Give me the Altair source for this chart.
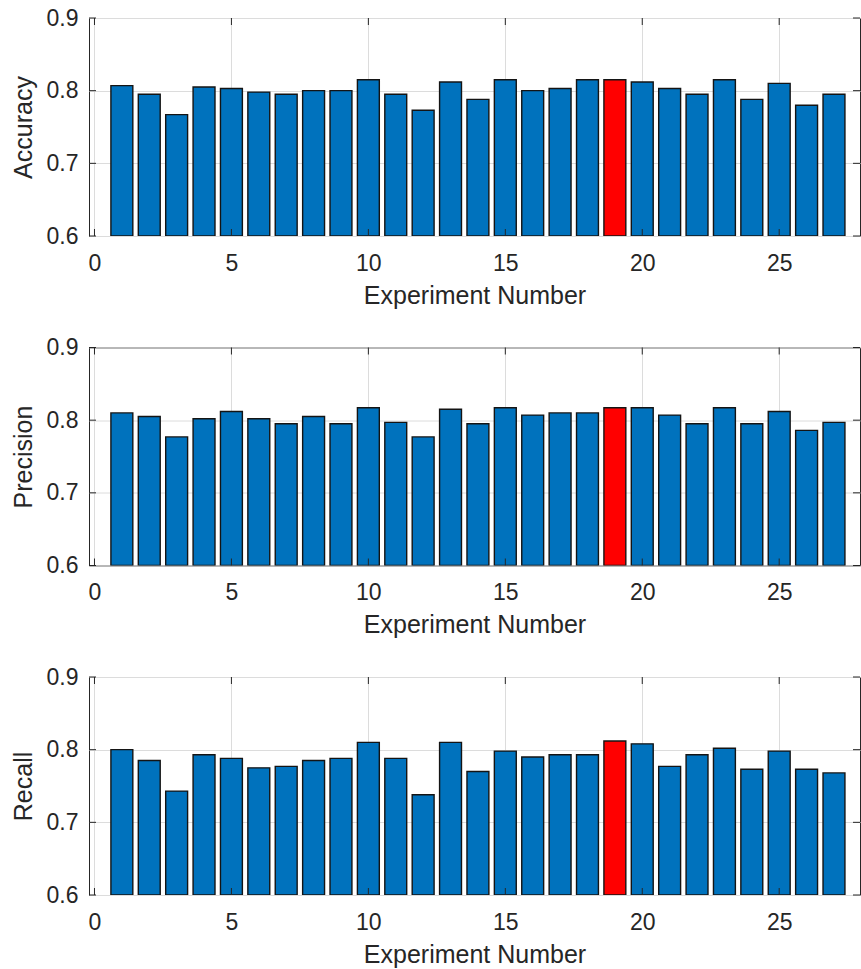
import altair as alt
import pandas as pd

# Per-experiment metrics
experiments = list(range(1, 28))
accuracy = [0.807, 0.795, 0.767, 0.805, 0.803, 0.798, 0.795, 0.800, 0.800, 0.815,
            0.795, 0.773, 0.812, 0.788, 0.815, 0.800, 0.803, 0.815, 0.815, 0.812,
            0.803, 0.795, 0.815, 0.788, 0.810, 0.780, 0.795]
precision = [0.810, 0.805, 0.777, 0.802, 0.812, 0.802, 0.795, 0.805, 0.795, 0.817,
             0.797, 0.777, 0.815, 0.795, 0.817, 0.807, 0.810, 0.810, 0.817, 0.817,
             0.807, 0.795, 0.817, 0.795, 0.812, 0.786, 0.797]
recall = [0.800, 0.785, 0.743, 0.793, 0.788, 0.775, 0.777, 0.785, 0.788, 0.810,
          0.788, 0.738, 0.810, 0.770, 0.798, 0.790, 0.793, 0.793, 0.812, 0.808,
          0.777, 0.793, 0.802, 0.773, 0.798, 0.773, 0.768]
best_experiment = 19

x_ticks = [0, 5, 10, 15, 20, 25]
y_ticks = [0.6, 0.7, 0.8, 0.9]

W, H = 771, 218
X_DOMAIN = [-0.2, 27.95]
Y_DOMAIN = [0.6, 0.9]
INK = "#262626"
FONT = "Liberation Sans"
TICK_LEN = 7


def panel(values, label):
    df = pd.DataFrame({"exp": experiments, "val": values})
    df["group"] = ["best" if e == best_experiment else "other" for e in experiments]

    xs = alt.Scale(domain=X_DOMAIN, nice=False, zero=False)
    ys = alt.Scale(domain=Y_DOMAIN, nice=False, zero=False)
    x_axis = alt.Axis(
        values=x_ticks,
        title="Experiment Number",
        tickSize=0,
        domain=False,
        labelPadding=16,
        labelFlush=False,
        titleY=47,
        titleBaseline="top",
    )
    y_axis = alt.Axis(
        values=y_ticks,
        format=".1f",
        title=label,
        tickSize=0,
        domain=False,
        labelPadding=11,
        labelFlush=False,
        titleX=-66,
        titleY=H / 2,
        titleAlign="center",
        titleBaseline="middle",
    )

    bars = (
        alt.Chart(df)
        .transform_calculate(x0="datum.exp - 0.4", x1="datum.exp + 0.4")
        .mark_bar(stroke="#141414", strokeWidth=1.4, clip=True)
        .encode(
            x=alt.X("x0:Q", scale=xs, axis=x_axis),
            x2="x1:Q",
            y=alt.Y("val:Q", scale=ys, axis=y_axis),
            y2=alt.datum(0.6),
            color=alt.Color(
                "group:N",
                scale=alt.Scale(domain=["other", "best"], range=["#0072BD", "#FF0000"]),
                legend=None,
            ),
        )
    )

    # Inward tick marks on all four sides of the box
    xt = pd.DataFrame({"t": x_ticks})
    yt = pd.DataFrame({"t": y_ticks})
    rule = dict(color=INK, strokeWidth=1)
    bottom = alt.Chart(xt).mark_rule(**rule).encode(
        x=alt.X("t:Q", scale=xs, axis=x_axis),
        y=alt.value(H), y2=alt.value(H - TICK_LEN))
    top = alt.Chart(xt).mark_rule(**rule).encode(
        x=alt.X("t:Q", scale=xs, axis=x_axis),
        y=alt.value(0), y2=alt.value(TICK_LEN))
    left = alt.Chart(yt).mark_rule(**rule).encode(
        y=alt.Y("t:Q", scale=ys, axis=y_axis),
        x=alt.value(0), x2=alt.value(TICK_LEN))
    right = alt.Chart(yt).mark_rule(**rule).encode(
        y=alt.Y("t:Q", scale=ys, axis=y_axis),
        x=alt.value(W), x2=alt.value(W - TICK_LEN))

    return alt.layer(bars, bottom, top, left, right).properties(width=W, height=H)


chart = (
    alt.vconcat(
        panel(accuracy, "Accuracy"),
        panel(precision, "Precision"),
        panel(recall, "Recall"),
        spacing=111.5,
        bounds="flush",
    )
    .properties(padding={"left": 10, "top": 6, "right": 0, "bottom": 0}, background="white")
    .configure_view(stroke=INK, strokeWidth=1)
    .configure_axis(
        grid=True,
        gridColor="#dcdcdc",
        gridWidth=1,
        labelFont=FONT,
        titleFont=FONT,
        labelFontSize=23,
        titleFontSize=25,
        labelColor=INK,
        titleColor=INK,
        titleFontWeight="normal",
    )
)

chart.save("out.html", embed_options={"renderer": "svg", "actions": False})
